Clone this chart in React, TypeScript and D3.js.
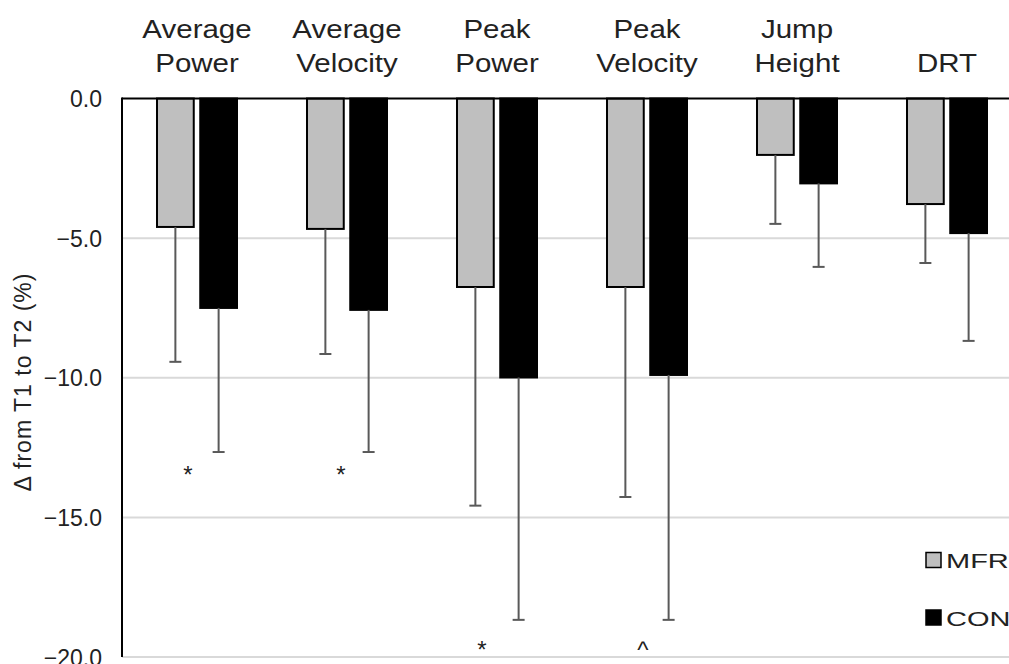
import React from "react";
import * as d3 from "d3";

const categories = [
  ["Average", "Power"],
  ["Average", "Velocity"],
  ["Peak", "Power"],
  ["Peak", "Velocity"],
  ["Jump", "Height"],
  ["DRT"],
];
const seriesNames = ["MFR", "CON"];
const mfrMeans = [-4.6, -4.67, -6.75, -6.75, -2.02, -3.78];
const mfrErr = [4.83, 4.48, 7.83, 7.52, 2.47, 2.11];
const conMeans = [-7.5, -7.57, -9.99, -9.9, -3.04, -4.82];
const conErr = [5.16, 5.09, 8.68, 8.77, 2.99, 3.86];
const yTicks = [0, -5, -10, -15, -20];
const annotations = [
  { cat: 0, text: "*", value: -13.3, dx: -9 },
  { cat: 1, text: "*", value: -13.3, dx: -6 },
  { cat: 2, text: "*", value: -19.57, dx: -15 },
  { cat: 3, text: "^", value: -19.6, dx: -4 },
];

const W = 1009;
const H = 664;
const FONT = "'Liberation Sans', Arial, sans-serif";
const colors = ["#bfbfbf", "#000000"];

export default function App() {
  const left = 122;
  const y = d3.scaleLinear().domain([-20, 0]).range([657, 98.5]);
  const x0 = d3
    .scaleBand<number>()
    .domain(categories.map((_, i) => i))
    .range([left, left + 900]);
  const x1 = d3
    .scaleBand<string>()
    .domain(seriesNames)
    .range([-40, 40])
    .paddingInner(0.15);

  const series = [
    { name: "MFR", means: mfrMeans, errs: mfrErr, color: colors[0] },
    { name: "CON", means: conMeans, errs: conErr, color: colors[1] },
  ];

  const center = (i: number) => (x0(i) as number) + x0.bandwidth() / 2;

  return (
    <svg
      width={W}
      height={H}
      style={{ position: "absolute", left: 0, top: 0, background: "#fff" }}
      fontFamily={FONT}
    >
      <rect x={0} y={0} width={W} height={H} fill="#fff" />
      {/* gridlines */}
      {yTicks
        .filter((t) => t !== 0)
        .map((t) => (
          <line
            key={t}
            x1={left}
            x2={W}
            y1={y(t)}
            y2={y(t)}
            stroke="#d9d9d9"
            strokeWidth={2}
          />
        ))}
      {/* bars */}
      {series.map((s) =>
        s.means.map((m, i) => {
          const bx = center(i) + (x1(s.name) as number);
          const bw = x1.bandwidth();
          return (
            <rect
              key={s.name + i}
              x={bx}
              y={y(0)}
              width={bw}
              height={y(m) - y(0)}
              fill={s.color}
              stroke="#000"
              strokeWidth={2}
            />
          );
        })
      )}
      {/* error bars */}
      {series.map((s) =>
        s.means.map((m, i) => {
          const cx = center(i) + (x1(s.name) as number) + x1.bandwidth() / 2;
          const yb = y(m - s.errs[i]);
          return (
            <g key={"e" + s.name + i} stroke="#595959" strokeWidth={2}>
              <line x1={cx} x2={cx} y1={y(m)} y2={yb} />
              <line x1={cx - 6} x2={cx + 6} y1={yb} y2={yb} />
            </g>
          );
        })
      )}
      {/* axes */}
      <line x1={left} x2={W} y1={y(0)} y2={y(0)} stroke="#000" strokeWidth={2} />
      <line x1={left} x2={left} y1={y(0) - 1} y2={y(-20)} stroke="#000" strokeWidth={2} />
      {yTicks.map((t) => (
        <text
          key={"t" + t}
          x={102}
          y={y(t)}
          dy={8.5}
          textAnchor="end"
          fontSize={23}
          fill="#222"
        >
          {d3.format(".1f")(t)}
        </text>
      ))}
      {/* category labels */}
      {categories.map((lines, i) => {
        const cx = center(i);
        const baselines = lines.length === 2 ? [38.5, 72.5] : [72.5];
        return (
          <g key={"c" + i} transform={`translate(${cx},0) scale(1.18,1)`}>
            {lines.map((l, j) => (
              <text
                key={j}
                x={0}
                y={baselines[j]}
                textAnchor="middle"
                fontSize={25}
                fill="#222"
              >
                {l}
              </text>
            ))}
          </g>
        );
      })}
      {/* y title */}
      <text
        transform={`translate(31,382) rotate(-90)`}
        textAnchor="middle"
        fontSize={23}
        letterSpacing={1}
        fill="#222"
      >
        Δ from T1 to T2 (%)
      </text>
      {/* annotations */}
      {annotations.map((a, i) => (
        <text
          key={"a" + i}
          x={center(a.cat) + a.dx}
          y={y(a.value)}
          dy={a.text === "*" ? 13.5 : 12}
          textAnchor="middle"
          fontSize={24}
          fill="#222"
        >
          {a.text}
        </text>
      ))}
      {/* legend */}
      {series.map((s, i) => {
        const ly = i === 0 ? 560 : 617.5;
        return (
          <g key={"l" + i}>
            <rect
              x={926}
              y={ly - 7.5}
              width={15}
              height={15}
              fill={s.color}
              stroke="#000"
              strokeWidth={1.5}
            />
            <g transform={`translate(946,${ly + 8}) scale(1.38,1)`}>
              <text x={0} y={0} fontSize={21} fill="#222">
                {s.name}
              </text>
            </g>
          </g>
        );
      })}
    </svg>
  );
}
